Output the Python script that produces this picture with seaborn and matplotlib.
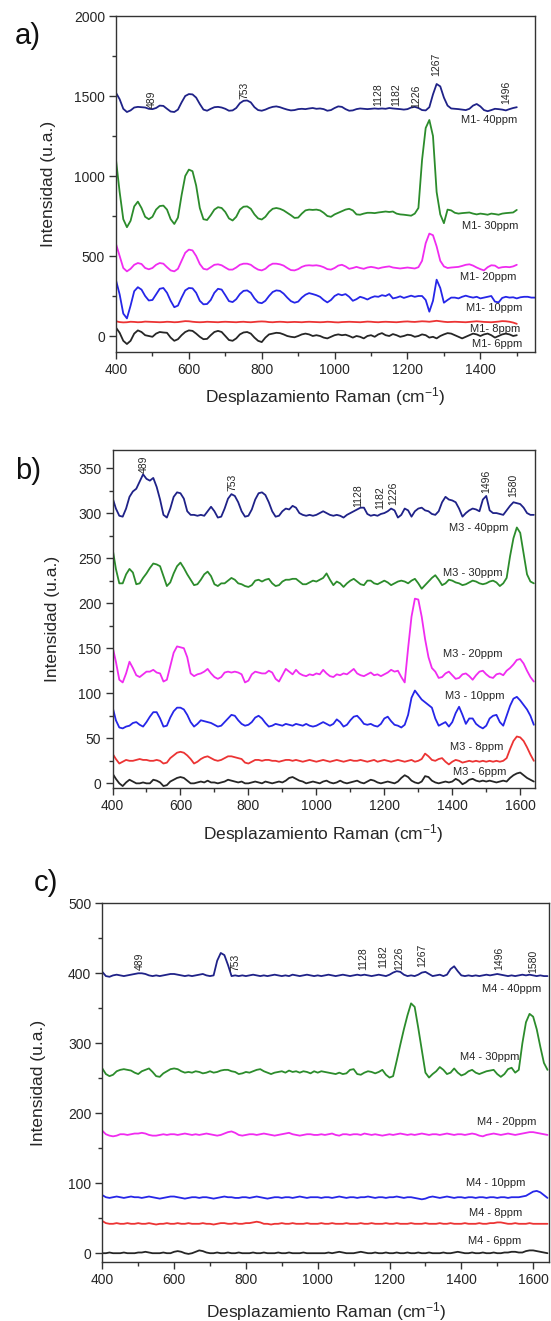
import numpy as np
import matplotlib
matplotlib.use("Agg")
import matplotlib.pyplot as plt
import seaborn as sns
from matplotlib.ticker import MultipleLocator

sns.set_theme(style="ticks")
plt.rcParams['font.family'] = ['Liberation Sans', 'DejaVu Sans']
plt.rcParams['mathtext.fontset'] = 'custom'
plt.rcParams['mathtext.rm'] = 'Liberation Sans'
plt.rcParams['mathtext.it'] = 'Liberation Sans'

# ---------------- Panel a: M1 spectra (10 cm-1 sampling) ----------------
wn_a = np.arange(400, 1501, 10)
wn_a10 = np.arange(400, 1551, 10)

m1_40 = [1520, 1480, 1420, 1400, 1410, 1428, 1432, 1430, 1428, 1420,
         1418, 1425, 1440, 1438, 1420, 1403, 1400, 1415, 1460, 1500,
         1512, 1510, 1490, 1450, 1415, 1408, 1420, 1430, 1432, 1428,
         1420, 1408, 1410, 1425, 1455, 1470, 1472, 1460, 1430, 1412,
         1408, 1415, 1425, 1432, 1435, 1430, 1422, 1415, 1410, 1412,
         1418, 1420, 1418, 1422, 1425, 1420, 1422, 1418, 1408, 1412,
         1425, 1435, 1432, 1418, 1408, 1410, 1418, 1422, 1420, 1418,
         1420, 1422, 1420, 1422, 1420, 1425, 1422, 1420, 1418, 1415,
         1418, 1428, 1432, 1425, 1412, 1410, 1430, 1510, 1575, 1560,
         1490, 1440, 1422, 1420, 1418, 1415, 1412, 1420, 1440, 1450,
         1435, 1412, 1405, 1412, 1420, 1418, 1415, 1410, 1418, 1425,
         1430]
m1_30 = [1100, 900, 730, 680, 720, 810, 840, 800, 745, 730,
         745, 790, 812, 815, 790, 730, 700, 740, 880, 1000,
         1040, 1030, 940, 800, 730, 725, 755, 790, 805, 800,
         775, 735, 722, 745, 790, 808, 810, 795, 760, 735,
         728, 745, 775, 795, 800, 795, 785, 770, 755, 738,
         740, 765, 785, 790, 788, 790, 785, 770, 750, 745,
         760, 770, 780, 790, 795, 785, 760, 758, 765, 770,
         770, 768, 772, 775, 778, 775, 778, 765, 760, 758,
         755, 752, 765, 800, 1100, 1300, 1350, 1250, 900, 760,
         705, 790, 785, 770, 765, 768, 770, 772, 765, 760,
         765, 762, 758, 765, 762, 758, 765, 768, 770, 772,
         788]
m1_20 = [575, 500, 425, 404, 420, 445, 456, 450, 425, 417,
         425, 445, 456, 452, 430, 410, 404, 420, 470, 520,
         540, 535, 500, 450, 420, 415, 430, 445, 448, 442,
         428, 415, 415, 428, 445, 452, 452, 445, 428, 415,
         410, 420, 440, 452, 452, 448, 440, 425, 412, 410,
         418, 432, 440, 442, 440, 442, 438, 430, 418, 415,
         425, 440, 445, 435, 420, 425, 432, 425, 420, 428,
         432, 428, 422, 428, 432, 435, 428, 425, 422, 425,
         428, 425, 422, 430, 470, 580, 640, 630, 560, 470,
         435, 425, 428, 430, 432, 438, 445, 448, 440, 428,
         418, 410, 430, 442, 440, 425, 430, 432, 430, 435,
         445]
m1_10 = [348, 260, 140, 110, 190, 280, 305, 290, 250, 222,
         225, 260, 295, 300, 270, 220, 180, 190, 240, 285,
         300, 298, 270, 220, 198, 200, 225, 270, 295, 290,
         255, 218, 212, 230, 262, 282, 285, 270, 235, 210,
         205, 220, 250, 275, 285, 282, 265, 240, 218, 208,
         215, 240, 258, 268, 262, 255, 245, 225, 210, 225,
         250, 262, 255, 262, 245, 220, 230, 245, 238, 228,
         240, 248, 245, 255, 250, 262, 235, 240, 248, 238,
         245, 252, 245, 250, 250, 225, 152, 220, 352, 300,
         208, 225, 240, 240, 235, 245, 252, 245, 240, 245,
         235, 240, 245, 250, 215, 210, 238, 245, 240, 242,
         235, 242, 245, 245, 240, 240]
m1_8 = [92, 87, 85, 86, 89, 88, 86, 87, 90, 89,
        88, 87, 86, 87, 89, 88, 86, 87, 90, 93,
        92, 89, 87, 86, 87, 89, 88, 87, 86, 88,
        89, 88, 87, 86, 88, 89, 87, 86, 88, 90,
        91, 90, 87, 86, 88, 89, 88, 86, 87, 88,
        87, 86, 88, 89, 88, 87, 86, 87, 89, 88,
        86, 85, 87, 88, 89, 88, 87, 86, 88, 90,
        89, 87, 86, 88, 89, 88, 87, 86, 88, 90,
        91, 89, 88, 90, 92, 91, 89, 92, 95, 92,
        89, 87, 88, 89, 88, 87, 86, 88, 90, 92,
        90, 88, 87, 86, 88, 90, 93, 92, 89, 84,
        76]
m1_6 = [52, 20, -30, -50, -30, 15, 35, 25, 5, 0,
        -5, 15, 25, 22, 20, -10, -30, -20, 5, 25,
        35, 32, 15, -5, -20, -18, 5, 25, 32, 25,
        0, -25, -30, -15, 10, 22, 25, 15, -10, -30,
        -38, -10, 10, 15, 20, 18, 10, 0, -5, -8,
        0, 10, 15, 10, 0, 5, 0, -10, -15, -5,
        5, 10, 5, 8, 0, -10, 0, -5, -15, 0,
        5, -5, 10, 18, 5, 0, 12, 5, -5, 0,
        8, 5, -5, 0, 10, 5, -10, -5, -15, 0,
        10, 18, 15, 5, -5, -15, -5, 5, 15, 10,
        0, 10, 15, 5, -10, 0, 10, 15, 10, 0,
        5]

# ---------------- Panels b and c share the 400-1640 cm-1 grid ----------------
wn_bc = np.arange(400, 1641, 10)

m3_40 = [317, 305, 297, 296, 305, 318, 324, 327, 335, 343,
         338, 336, 339, 329, 315, 298, 295, 305, 318, 323,
         322, 316, 302, 298, 298, 297, 298, 297, 302, 307,
         302, 295, 296, 305, 316, 321, 319, 312, 302, 296,
         297, 304, 315, 322, 323, 320, 312, 302, 296, 297,
         302, 305, 304, 308, 306, 300, 298, 297, 298, 297,
         298, 300, 302, 300, 298, 297, 298, 297, 295, 298,
         300, 302, 304, 306, 306, 299, 297, 298, 297, 299,
         300, 302, 305, 303, 295, 298, 305, 303, 296, 302,
         305, 306, 303, 302, 299, 298, 302, 312, 318, 315,
         314, 312, 305, 296, 300, 303, 305, 304, 302, 315,
         319, 303, 300, 300, 299, 298, 303, 308, 312, 311,
         310, 306, 300, 298, 298]
m3_30 = [261, 238, 222, 222, 232, 238, 234, 221, 222, 228,
         233, 239, 244, 243, 241, 230, 219, 223, 233, 241,
         245, 239, 232, 226, 220, 221, 226, 232, 235, 230,
         221, 219, 222, 222, 225, 228, 226, 222, 221, 219,
         218, 220, 225, 226, 224, 226, 227, 222, 219, 220,
         224, 226, 226, 227, 227, 224, 221, 221, 223, 225,
         224, 226, 228, 233, 226, 220, 224, 222, 218, 222,
         225, 227, 224, 221, 220, 225, 225, 222, 221, 223,
         225, 223, 220, 222, 224, 225, 224, 222, 225, 227,
         222, 216, 220, 224, 228, 231, 226, 220, 222, 226,
         225, 223, 222, 220, 221, 223, 225, 224, 222, 221,
         222, 224, 225, 223, 219, 222, 228, 252, 272, 284,
         278, 255, 232, 224, 222]
m3_20 = [152, 135, 115, 112, 122, 135, 128, 120, 118, 121,
         124, 124, 126, 123, 122, 113, 115, 130, 145, 152,
         151, 150, 140, 122, 119, 121, 122, 124, 127, 122,
         118, 116, 118, 123, 124, 123, 124, 123, 121, 112,
         114, 121, 124, 123, 122, 122, 125, 123, 116, 113,
         120, 127, 124, 121, 126, 122, 120, 119, 121, 120,
         122, 121, 126, 122, 119, 118, 121, 120, 122, 121,
         124, 127, 122, 120, 119, 121, 123, 120, 121, 119,
         121, 123, 126, 124, 125, 118, 112, 150, 185, 205,
         204, 185, 160, 140, 128, 124, 117, 118, 122, 124,
         120, 116, 117, 121, 122, 119, 115, 120, 124, 125,
         121, 118, 117, 121, 122, 120, 125, 128, 132, 137,
         138, 133, 125, 118, 113]
m3_10 = [85, 70, 62, 61, 63, 64, 67, 68, 65, 63,
         68, 74, 79, 79, 72, 63, 64, 73, 80, 84,
         84, 82, 76, 68, 63, 66, 70, 69, 68, 67,
         65, 63, 64, 68, 72, 76, 75, 70, 66, 64,
         65, 68, 73, 75, 72, 67, 63, 64, 66, 65,
         64, 66, 65, 64, 66, 65, 64, 66, 64, 63,
         64, 66, 68, 66, 64, 66, 71, 68, 63, 65,
         70, 74, 75, 71, 66, 65, 66, 64, 63, 66,
         72, 74, 69, 65, 64, 62, 65, 76, 95, 103,
         98, 93, 90, 87, 84, 72, 64, 66, 68, 63,
         68, 78, 85, 76, 66, 72, 72, 66, 63, 61,
         64, 72, 75, 76, 68, 64, 75, 86, 94, 96,
         92, 87, 82, 75, 65]
m3_8 = [33, 27, 22, 24, 26, 25, 25, 26, 27, 26,
        26, 25, 25, 26, 25, 22, 23, 28, 31, 34,
        35, 34, 31, 27, 22, 24, 27, 29, 30, 28,
        26, 25, 26, 28, 30, 30, 29, 28, 27, 23,
        22, 24, 26, 26, 25, 26, 26, 25, 25, 24,
        25, 26, 26, 25, 26, 25, 24, 25, 26, 25,
        24, 25, 26, 25, 24, 25, 26, 25, 24, 25,
        26, 25, 25, 26, 25, 24, 25, 26, 24, 25,
        26, 25, 24, 25, 26, 25, 24, 25, 26, 24,
        25, 27, 33, 30, 26, 25, 27, 28, 24, 21,
        24, 26, 25, 23, 24, 25, 24, 25, 24, 25,
        24, 25, 24, 25, 24, 25, 28, 38, 47, 52,
        51, 47, 40, 32, 25]
m3_6 = [11, 5, 0, -3, 1, 4, 2, 0, 0, 1,
        0, 0, 4, 3, 1, -3, -2, 2, 4, 6,
        7, 6, 3, 0, 0, 1, 2, 1, 3, 1,
        1, 0, 1, 2, 4, 3, 2, 1, 2, 0,
        0, 1, 2, 1, 0, 2, 1, 0, 1, 2,
        1, 3, 6, 7, 5, 3, 2, 0, 1, 2,
        1, 0, 2, 3, 1, 0, 1, 3, 1, 0,
        1, 2, 3, 1, 0, 2, 4, 3, 1, 0,
        1, 2, 1, 0, 2, 6, 9, 7, 3, 1,
        0, 2, 8, 7, 3, 1, 0, 1, 2, 1,
        2, 5, 3, -1, 1, 4, 5, 3, 2, 3,
        2, 3, 2, 1, 2, 3, 2, 6, 9, 11,
        12, 9, 6, 4, 2]

m4_40 = [402, 396, 395, 397, 398, 397, 396, 397, 398, 399,
         400, 400, 399, 397, 396, 397, 396, 397, 398, 399,
         399, 398, 397, 396, 397, 396, 397, 398, 399, 397,
         396, 397, 418, 429, 426, 412, 396, 397, 396, 397,
         396, 397, 398, 397, 396, 397, 396, 397, 398, 397,
         396, 397, 396, 398, 397, 396, 397, 398, 397, 396,
         397, 396, 397, 398, 397, 396, 397, 398, 397, 396,
         397, 398, 397, 398, 397, 396, 397, 398, 397, 396,
         398, 401, 403, 402, 398, 396, 397, 396, 398, 401,
         402, 399, 396, 397, 398, 396, 398, 406, 410, 403,
         397, 396, 397, 396, 397, 396, 397, 398, 397, 398,
         399, 398, 397, 396, 397, 396, 397, 398, 397, 398,
         397, 396, 397, 396, 396]
m4_30 = [264, 256, 253, 255, 260, 262, 263, 262, 261, 258,
         256, 260, 262, 264, 259, 253, 252, 257, 260, 263,
         264, 263, 260, 258, 259, 258, 260, 259, 257, 258,
         260, 258, 259, 261, 262, 262, 260, 259, 256, 257,
         259, 258, 260, 262, 263, 260, 258, 256, 258, 259,
         260, 258, 261, 259, 260, 258, 260, 259, 257, 260,
         258, 260, 259, 258, 257, 256, 258, 256, 257, 262,
         263, 256, 255, 258, 260, 259, 257, 259, 262, 255,
         251, 253, 275, 298, 320, 340, 357, 352, 322, 290,
         258, 251, 256, 260, 266, 262, 256, 258, 264, 258,
         254, 256, 260, 262, 258, 256, 258, 260, 261, 262,
         256, 252, 256, 263, 265, 258, 262, 300, 330, 342,
         338, 320, 295, 272, 262]
m4_20 = [175, 170, 168, 167, 168, 170, 170, 169, 170, 171,
         171, 172, 171, 169, 168, 168, 169, 170, 169, 170,
         170, 169, 170, 171, 170, 169, 170, 169, 170, 171,
         170, 169, 168, 169, 171, 173, 174, 172, 169, 168,
         169, 170, 170, 169, 170, 171, 170, 169, 168, 169,
         170, 171, 172, 170, 169, 168, 169, 170, 170, 169,
         169, 170, 169, 170, 171, 169, 168, 170, 170, 169,
         170, 170, 169, 171, 170, 169, 170, 169, 168, 169,
         170, 169, 170, 171, 170, 169, 170, 169, 170, 171,
         170, 169, 170, 170, 169, 170, 171, 170, 169, 170,
         170, 169, 170, 171, 170, 168, 167, 169, 170, 171,
         170, 169, 170, 171, 170, 169, 170, 171, 172, 173,
         173, 172, 171, 170, 169]
m4_10 = [83, 80, 79, 80, 81, 80, 79, 80, 81, 80,
         80, 79, 80, 81, 80, 79, 78, 79, 80, 81,
         81, 80, 79, 78, 79, 80, 80, 79, 80, 80,
         79, 78, 79, 80, 81, 80, 80, 79, 79, 80,
         80, 79, 80, 81, 80, 79, 78, 79, 80, 80,
         79, 80, 80, 79, 80, 81, 80, 79, 80, 80,
         80, 79, 80, 80, 79, 80, 81, 80, 79, 80,
         80, 79, 80, 80, 81, 80, 79, 80, 80, 79,
         80, 80, 81, 80, 79, 80, 80, 79, 78, 77,
         78, 80, 81, 80, 79, 80, 81, 80, 79, 80,
         80, 79, 80, 80, 79, 80, 80, 79, 80, 80,
         79, 80, 80, 79, 80, 80, 80, 81, 82, 85,
         88, 89, 87, 83, 79]
m4_8 = [46, 43, 42, 42, 43, 42, 42, 43, 42, 42,
        43, 42, 42, 43, 42, 41, 42, 42, 43, 42,
        42, 43, 42, 42, 43, 42, 42, 42, 43, 42,
        42, 41, 42, 43, 43, 42, 42, 43, 42, 42,
        43, 43, 44, 45, 44, 42, 42, 41, 42, 42,
        43, 42, 42, 43, 42, 42, 42, 43, 42, 42,
        42, 43, 42, 42, 43, 42, 42, 42, 43, 42,
        42, 42, 43, 42, 42, 43, 42, 42, 42, 43,
        42, 42, 43, 42, 42, 42, 43, 42, 42, 42,
        43, 42, 42, 42, 43, 42, 42, 43, 42, 42,
        42, 43, 42, 42, 42, 43, 42, 42, 43, 43,
        44, 44, 43, 42, 42, 43, 42, 42, 42, 43,
        42, 42, 42, 42, 42]
m4_6 = [0, 0, 1, 0, 0, 0, 1, 0, 0, 0,
        1, 1, 2, 1, 0, 0, 0, 1, 0, 0,
        2, 3, 2, 0, -1, 0, 2, 4, 3, 1,
        0, 0, 1, 0, 0, 1, 0, 0, 1, 0,
        0, 0, 1, 0, 0, 1, 0, 0, 0, 1,
        0, 0, 1, 0, 0, 0, 1, 0, 0, 0,
        0, 0, 0, 1, 0, 1, 2, 1, 0, 0,
        0, 1, 2, 1, 0, 0, 1, 0, 0, 1,
        0, 0, 1, 0, 0, 1, 0, 0, 1, 0,
        0, 1, 0, 0, 0, 1, 0, 0, 1, 2,
        1, 0, 0, 1, 0, 0, 1, 0, 0, 1,
        0, 0, 1, 1, 2, 2, 1, 1, 3, 4,
        4, 3, 2, 1, 0]

# Peak annotations: (text, wavenumber, bottom of label in data units)
peaks_a = [("489", 497, 1427), ("753", 753, 1483), ("1128", 1121, 1435),
           ("1182", 1169, 1435), ("1226", 1225, 1427), ("1267", 1280, 1625),
           ("1496", 1470, 1450)]
peaks_b = [("489", 493, 344), ("753", 753, 325), ("1128", 1123, 307),
           ("1182", 1188, 304), ("1226", 1227, 309), ("1496", 1499, 322),
           ("1580", 1579, 318)]
peaks_c = [("489", 505, 405), ("753", 770, 403), ("1128", 1127, 404),
           ("1182", 1183, 407), ("1226", 1227, 404), ("1267", 1290, 409),
           ("1496", 1505, 405), ("1580", 1600, 401)]

NAVY, GREEN, MAGENTA, BLUE, RED, BLACK = ("#1f2288", "#2c8c2c", "#f02cf0",
                                          "#2626e8", "#ec3434", "#262626")
COLORS = [NAVY, GREEN, MAGENTA, BLUE, RED, BLACK]

panels = [
    dict(tag="a)", rect=[116 / 551, 1 - 352 / 1321, 419 / 551, 336 / 1321],
         xlim=(400, 1550), ylim=(-100, 2000), ymaj=500, ymin=250,
         series=[(wn_a, m1_40), (wn_a, m1_30), (wn_a, m1_20), (wn_a10, m1_10),
                 (wn_a, m1_8), (wn_a, m1_6)],
         names=["M1- 40ppm", "M1- 30ppm", "M1- 20ppm", "M1- 10ppm", "M1- 8ppm", "M1- 6ppm"],
         name_pos=[(1502, 1350), (1504, 687), (1499, 369), (1516, 175), (1510, 46), (1514, -48)],
         peaks=peaks_a, tag_xy=(15, 36), ylab_x=49, xlab_pad=6),
    dict(tag="b)", rect=[112.5 / 551, 1 - 788.3 / 1321, 422 / 551, 338.3 / 1321],
         xlim=(400, 1642), ylim=(-5.5, 370), ymaj=50, ymin=25,
         series=[(wn_bc, m3_40), (wn_bc, m3_30), (wn_bc, m3_20), (wn_bc, m3_10),
                 (wn_bc, m3_8), (wn_bc, m3_6)],
         names=["M3 - 40ppm", "M3 - 30ppm", "M3 - 20ppm", "M3 - 10ppm", "M3 - 8ppm", "M3 - 6ppm"],
         name_pos=[(1566, 283), (1549, 233), (1549, 144), (1553, 97), (1549, 40), (1558, 13)],
         peaks=peaks_b, tag_xy=(15, 471), ylab_x=52, xlab_pad=6),
    dict(tag="c)", rect=[102.3 / 551, 1 - 1262.3 / 1321, 447 / 551, 359 / 1321],
         xlim=(400, 1645), ylim=(-13, 500), ymaj=100, ymin=50,
         series=[(wn_bc, m4_40), (wn_bc, m4_30), (wn_bc, m4_20), (wn_bc, m4_10),
                 (wn_bc, m4_8), (wn_bc, m4_6)],
         names=["M4 - 40ppm", "M4 - 30ppm", "M4 - 20ppm", "M4 - 10ppm", "M4 - 8ppm", "M4 - 6ppm"],
         name_pos=[(1622, 377), (1563, 280), (1608, 188), (1577, 100), (1571, 58), (1568, 18)],
         peaks=peaks_c, tag_xy=(34, 883), ylab_x=39, xlab_pad=9),
]

fig = plt.figure(figsize=(5.51, 13.21), dpi=100)
fig.patch.set_facecolor("white")
TXT = "#262626"

for p in panels:
    ax = fig.add_axes(p["rect"])
    for (x, y), c in zip(p["series"], COLORS):
        sns.lineplot(x=x, y=y, color=c, linewidth=1.3, ax=ax, legend=False)
    ax.set_xlim(*p["xlim"])
    ax.set_ylim(*p["ylim"])
    ax.xaxis.set_major_locator(MultipleLocator(200))
    ax.xaxis.set_minor_locator(MultipleLocator(100))
    ax.yaxis.set_major_locator(MultipleLocator(p["ymaj"]))
    ax.yaxis.set_minor_locator(MultipleLocator(p["ymin"]))
    ax.tick_params(which="both", direction="out", colors="#333333",
                   labelcolor=TXT, width=1.0, top=False, right=False)
    ax.tick_params(which="major", length=5, labelsize=10, pad=3)
    ax.tick_params(which="minor", length=3)
    for s in ax.spines.values():
        s.set_visible(True)
        s.set_linewidth(1.0)
        s.set_color("#333333")
    ax.set_xlabel("Desplazamiento Raman (cm$^{-1}$)", fontsize=12.5, color=TXT,
                  labelpad=p["xlab_pad"])
    ax.set_ylabel("")
    fig.text(p["ylab_x"] / 551, p["rect"][1] + p["rect"][3] / 2, "Intensidad (u.a.)",
             rotation=90, ha="center", va="center", fontsize=12.5, color=TXT)
    for name, (xn, yn) in zip(p["names"], p["name_pos"]):
        ax.text(xn, yn, name, ha="right", va="center", fontsize=8, color=TXT)
    for lab, xp, yp in p["peaks"]:
        ax.text(xp, yp, lab, rotation=90, ha="center", va="bottom", fontsize=7.5,
                color=TXT)
    tx, ty = p["tag_xy"]
    fig.text(tx / 551, 1 - ty / 1321, p["tag"], ha="left", va="center",
             fontsize=21, color="#111111")

fig.savefig("out.png", dpi=100, facecolor="white")
